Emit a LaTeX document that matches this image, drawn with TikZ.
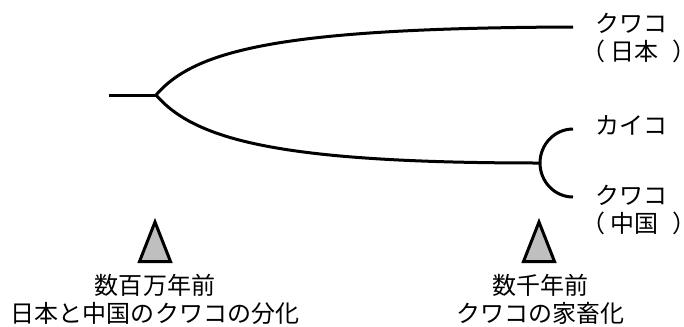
\documentclass[tikz,border=0pt]{standalone}
\usepackage{fontspec}
\setmainfont{Noto Sans CJK JP}
\begin{document}
\begin{tikzpicture}[x=1bp,y=-1bp,
  branch/.style={line width=3bp},
  marker/.style={line width=3bp, line join=miter, fill=black!25, draw=black},
  lbl/.style={inner sep=0pt, font=\fontsize{24bp}{28.5bp}\selectfont},
]
\useasboundingbox (0,0) rectangle (684,326);
% tree points
\coordinate (root) at (109,95);
\coordinate (split1) at (156,95);
\coordinate (jp) at (573,27);
\coordinate (split2) at (540,163);
\coordinate (kaiko) at (573,129);
\coordinate (cn) at (573,197);
\draw[branch] (root) -- (split1);
\draw[branch] (split1) .. controls (195,50) and (280,28) .. (jp);
\draw[branch] (split1) .. controls (195,140) and (280,163) .. (split2);
\draw[branch] (kaiko) arc[start angle=270, end angle=90, x radius=33, y radius=34];
% labels
\node[lbl, anchor=west, align=left] (ljp) at (595.6,38) {クワコ\\\hspace*{-14.2bp}（\kern4.6bp 日本\kern14.5bp ）\kern-14bp};
\node[lbl, anchor=west] (lkaiko) at (595.6,125) {カイコ};
\node[lbl, anchor=west, align=left] (lcn) at (595.6,210) {クワコ\\\hspace*{-14.2bp}（\kern4.6bp 中国\kern14.5bp ）\kern-14bp};
% markers
\draw[marker] (155,222) -- (139.5,261.5) -- (170.5,261.5) -- cycle;
\draw[marker] (539,222) -- (523.5,261.5) -- (554.5,261.5) -- cycle;
\node[lbl, align=center] (t1) at (155,299.5) {数百万年前\\日本と中国のクワコの分化};
\node[lbl, align=center] (t2) at (540,299.5) {数千年前\\クワコの家畜化};
\end{tikzpicture}
\end{document}
